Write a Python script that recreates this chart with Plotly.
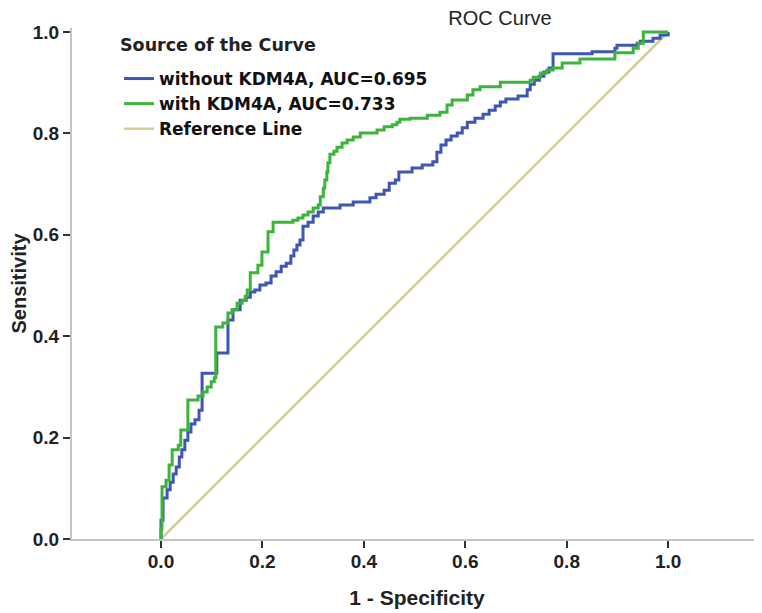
import plotly.graph_objects as go

# ROC points (1 - specificity, sensitivity)
fpr_without = [0.0, 0.0, 0.004, 0.012, 0.018, 0.024, 0.030, 0.036, 0.041, 0.047, 0.053, 0.059,
               0.067, 0.075, 0.081, 0.110, 0.132, 0.142, 0.156, 0.168, 0.176, 0.185, 0.195,
               0.207, 0.217, 0.227, 0.237, 0.247, 0.256, 0.262, 0.268, 0.274, 0.280, 0.290,
               0.300, 0.310, 0.320, 0.353, 0.379, 0.412, 0.424, 0.440, 0.450, 0.462, 0.469,
               0.495, 0.515, 0.536, 0.544, 0.552, 0.562, 0.572, 0.584, 0.594, 0.604, 0.619,
               0.635, 0.647, 0.659, 0.669, 0.680, 0.704, 0.722, 0.728, 0.736, 0.746, 0.755,
               0.765, 0.773, 0.850, 0.895, 0.899, 0.939, 0.945, 0.970, 0.984, 1.0]
tpr_without = [0.0, 0.037, 0.081, 0.097, 0.112, 0.128, 0.142, 0.162, 0.176, 0.195, 0.211, 0.227,
               0.235, 0.254, 0.327, 0.367, 0.432, 0.452, 0.471, 0.477, 0.487, 0.491, 0.501,
               0.505, 0.519, 0.527, 0.538, 0.544, 0.558, 0.570, 0.580, 0.590, 0.617, 0.625,
               0.637, 0.645, 0.653, 0.659, 0.665, 0.673, 0.680, 0.688, 0.702, 0.708, 0.724,
               0.732, 0.738, 0.744, 0.763, 0.777, 0.787, 0.795, 0.801, 0.811, 0.822, 0.830,
               0.838, 0.846, 0.854, 0.862, 0.868, 0.874, 0.886, 0.897, 0.905, 0.913, 0.921,
               0.929, 0.957, 0.961, 0.968, 0.974, 0.978, 0.982, 0.988, 0.994, 1.0]

fpr_with = [0.0, 0.0, 0.002, 0.010, 0.016, 0.022, 0.034, 0.039, 0.053, 0.073, 0.083, 0.091,
            0.099, 0.105, 0.108, 0.122, 0.132, 0.140, 0.150, 0.160, 0.166, 0.170, 0.176,
            0.191, 0.199, 0.211, 0.221, 0.260, 0.270, 0.280, 0.290, 0.300, 0.310, 0.314,
            0.320, 0.323, 0.327, 0.329, 0.333, 0.341, 0.347, 0.357, 0.367, 0.379, 0.393,
            0.426, 0.440, 0.456, 0.465, 0.471, 0.491, 0.525, 0.550, 0.564, 0.574, 0.604,
            0.615, 0.629, 0.669, 0.728, 0.734, 0.748, 0.761, 0.773, 0.791, 0.826, 0.895,
            0.931, 0.941, 0.951, 1.0]
tpr_with = [0.0, 0.020, 0.103, 0.116, 0.146, 0.176, 0.185, 0.215, 0.274, 0.282, 0.290, 0.300,
            0.310, 0.318, 0.418, 0.426, 0.446, 0.452, 0.465, 0.471, 0.479, 0.491, 0.525,
            0.540, 0.566, 0.606, 0.625, 0.629, 0.633, 0.639, 0.645, 0.653, 0.659, 0.675,
            0.692, 0.708, 0.724, 0.742, 0.759, 0.765, 0.773, 0.781, 0.787, 0.793, 0.801,
            0.807, 0.813, 0.817, 0.822, 0.828, 0.830, 0.836, 0.842, 0.856, 0.866, 0.876,
            0.886, 0.892, 0.901, 0.905, 0.911, 0.919, 0.925, 0.929, 0.939, 0.947, 0.959,
            0.968, 0.978, 1.0, 1.0]

ref_x = [0.0, 1.0]
ref_y = [0.0, 1.0]

names = ["without KDM4A, AUC=0.695", "with KDM4A, AUC=0.733", "Reference Line"]
legend_title = "Source of the Curve"
x_ticks = [0.0, 0.2, 0.4, 0.6, 0.8, 1.0]
y_ticks = [0.0, 0.2, 0.4, 0.6, 0.8, 1.0]

BLUE = "#3e56b4"
GREEN = "#3cb43c"
TAN = "#d5cc98"

W, H = 754, 605  # page body has an 8px margin inside the 762x613 window
PW, PH = W - 64, H - 20 - 74

fig = go.Figure()
fig.add_trace(go.Scatter(x=ref_x, y=ref_y, mode="lines", name=names[2], legendrank=3,
                         line=dict(color=TAN, width=2.5)))
fig.add_trace(go.Scatter(x=fpr_without, y=tpr_without, mode="lines", name=names[0], legendrank=1,
                         line=dict(color=BLUE, width=3, shape="hv")))
fig.add_trace(go.Scatter(x=fpr_with, y=tpr_with, mode="lines", name=names[1], legendrank=2,
                         line=dict(color=GREEN, width=3, shape="hv")))

tickfont = dict(family="Liberation Sans Narrow, Arial Narrow, Liberation Sans, Arial",
                size=19, color="#222222", weight="bold")
legfont = dict(family="DejaVu Sans, Verdana, Liberation Sans", size=17, color="#111111",
               weight="bold")

fig.update_layout(
    width=W, height=H,
    margin=dict(l=64, r=0, t=20, b=74, autoexpand=False),
    paper_bgcolor="white", plot_bgcolor="white",
    title=dict(text="ROC Curve", x=492 / W, xref="container", xanchor="center",
               y=1 - 3 / H, yref="container", yanchor="top", pad=dict(t=0, b=0),
               font=dict(family="Liberation Sans, Arial", size=20, color="#222222")),
    showlegend=True,
    legend=dict(x=(111 - 64) / PW, y=(PH + 20 - 53) / PH, xanchor="left", yanchor="top",
                bgcolor="rgba(0,0,0,0)", borderwidth=0, font=legfont,
                itemwidth=30, tracegroupgap=0),
    annotations=[dict(text=legend_title, xref="paper", yref="paper",
                      x=(110 - 64) / PW, y=(PH + 20 - 37) / PH,
                      xanchor="left", yanchor="middle", showarrow=False,
                      font=dict(family="DejaVu Sans, Verdana, Liberation Sans", size=17.5,
                                color="#222222", weight="bold"))],
    xaxis=dict(range=[-0.1755, 1.185], tickvals=x_ticks, tickformat=".1f", automargin=False,
               showgrid=False, zeroline=False, showline=True, linecolor="#c4c4c4", linewidth=2,
               ticks="outside", ticklen=7, tickwidth=2, tickcolor="#333333",
               tickfont=tickfont, ticklabelstandoff=-3, layer="below traces",
               title=dict(text="1 - Specificity", standoff=20,
                          font=dict(family="Liberation Sans Narrow, Arial Narrow, Liberation Sans",
                                    size=21, color="#222222", weight="bold"))),
    yaxis=dict(range=[0, 1.008], tickvals=y_ticks, tickformat=".1f", automargin=False,
               showgrid=False, zeroline=False, showline=True, linecolor="#c4c4c4", linewidth=2,
               ticks="outside", ticklen=7, tickwidth=2, tickcolor="#333333",
               tickfont=tickfont, layer="below traces",
               title=dict(text="Sensitivity", standoff=16,
                          font=dict(family="Liberation Sans, Arial", size=20, color="#222222",
                                    weight="bold"))),
)

fig.write_html("out.html")
